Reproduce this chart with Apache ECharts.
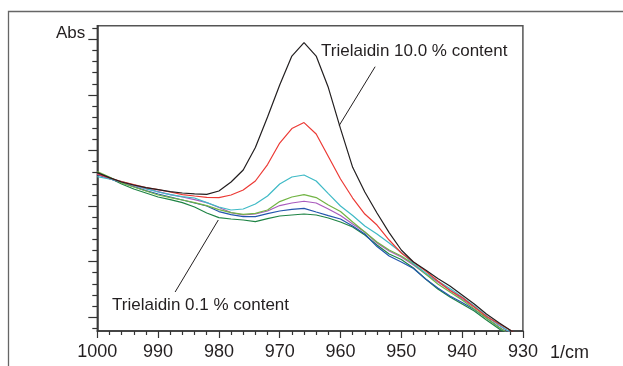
<!DOCTYPE html>
<html>
<head>
<meta charset="utf-8">
<script src="https://cdn.jsdelivr.net/npm/echarts@6/dist/echarts.min.js"></script>
<style>
html,body{margin:0;padding:0;background:#fff;}
#chart{width:623px;height:366px;}
</style>
</head>
<body>
<div id="chart"></div>
<script>
// wavenumber (1/cm)
const wavenumbers = [1000, 998, 996, 994, 992, 990, 988, 986, 984, 982, 980, 978, 976, 974, 972, 970, 968, 966, 964, 962, 960, 958, 956, 954, 952, 950, 948, 946, 944, 942, 940, 938, 936, 934, 932, 930];

// absorbance (arbitrary units), one array per trielaidin content
const absHighest = [0.2301, 0.2256, 0.2216, 0.2189, 0.2166, 0.2148, 0.2130, 0.2117, 0.2110, 0.2105, 0.2135, 0.2216, 0.2324, 0.2526, 0.2801, 0.3089, 0.3350, 0.3471, 0.3350, 0.3066, 0.2696, 0.2348, 0.2126, 0.1937, 0.1761, 0.1604, 0.1496, 0.1424, 0.1347, 0.1280, 0.1199, 0.1118, 0.1028, 0.0951, 0.0879, 0.0812];
const absRed = [0.2288, 0.2252, 0.2220, 0.2193, 0.2166, 0.2148, 0.2126, 0.2103, 0.2090, 0.2078, 0.2076, 0.2099, 0.2144, 0.2225, 0.2373, 0.2567, 0.2697, 0.2751, 0.2648, 0.2445, 0.2243, 0.2072, 0.1928, 0.1829, 0.1694, 0.1577, 0.1496, 0.1415, 0.1325, 0.1239, 0.1176, 0.1091, 0.1005, 0.0942, 0.0879, 0.0812];
const absCyan = [0.2265, 0.2243, 0.2220, 0.2189, 0.2157, 0.2126, 0.2103, 0.2085, 0.2072, 0.2031, 0.1991, 0.1964, 0.1973, 0.2018, 0.2090, 0.2198, 0.2261, 0.2279, 0.2225, 0.2112, 0.2000, 0.1914, 0.1820, 0.1748, 0.1667, 0.1581, 0.1482, 0.1397, 0.1325, 0.1257, 0.1181, 0.1100, 0.1010, 0.0933, 0.0861, 0.0794];
const absLightGreen = [0.2310, 0.2261, 0.2207, 0.2171, 0.2135, 0.2099, 0.2076, 0.2054, 0.2031, 0.2004, 0.1968, 0.1941, 0.1925, 0.1934, 0.1964, 0.2040, 0.2081, 0.2103, 0.2076, 0.2009, 0.1950, 0.1856, 0.1766, 0.1676, 0.1604, 0.1550, 0.1478, 0.1388, 0.1298, 0.1226, 0.1154, 0.1073, 0.0992, 0.0911, 0.0839, 0.0767];
const absPurple = [0.2288, 0.2247, 0.2216, 0.2184, 0.2157, 0.2130, 0.2103, 0.2081, 0.2058, 0.2031, 0.1986, 0.1941, 0.1919, 0.1928, 0.1955, 0.2004, 0.2027, 0.2043, 0.2027, 0.1973, 0.1914, 0.1838, 0.1766, 0.1667, 0.1595, 0.1541, 0.1469, 0.1388, 0.1316, 0.1244, 0.1163, 0.1091, 0.1010, 0.0929, 0.0857, 0.0785];
const absBlue = [0.2283, 0.2247, 0.2211, 0.2175, 0.2139, 0.2108, 0.2081, 0.2054, 0.2027, 0.2000, 0.1950, 0.1923, 0.1905, 0.1904, 0.1932, 0.1955, 0.1970, 0.1979, 0.1946, 0.1914, 0.1883, 0.1820, 0.1748, 0.1635, 0.1550, 0.1496, 0.1437, 0.1343, 0.1262, 0.1190, 0.1131, 0.1068, 0.0992, 0.0911, 0.0839, 0.0767];
const absLowest = [0.2301, 0.2252, 0.2198, 0.2153, 0.2117, 0.2081, 0.2058, 0.2031, 0.1991, 0.1937, 0.1896, 0.1883, 0.1874, 0.1860, 0.1887, 0.1910, 0.1919, 0.1928, 0.1919, 0.1892, 0.1856, 0.1811, 0.1739, 0.1649, 0.1568, 0.1518, 0.1442, 0.1343, 0.1253, 0.1181, 0.1118, 0.1055, 0.0974, 0.0897, 0.0821, 0.0749];

// axis ticks
const xTickLabels = ['1000', '990', '980', '970', '960', '950', '940', '930'];
const yMajorTicks = [0.10, 0.15, 0.20, 0.25, 0.30, 0.35];
const yMinorTicks = [0.09, 0.11, 0.12, 0.13, 0.14, 0.16, 0.17, 0.18, 0.19, 0.21, 0.22, 0.23, 0.24, 0.26, 0.27, 0.28, 0.29, 0.31, 0.32, 0.33, 0.34, 0.36];

// annotation texts and leader-line anchors (data coordinates)
const labelHigh = 'Trielaidin 10.0 % content';
const labelLow = 'Trielaidin 0.1 % content';
const leaderHigh = [[960.2, 0.2726], [954.3, 0.3254]];
const leaderLow = [[980.1, 0.1874], [987.2, 0.1226]];

const seriesDefs = [
  { name: '10.0 %', data: absHighest, color: '#231f20' },
  { name: 'red', data: absRed, color: '#ec3a35' },
  { name: 'cyan', data: absCyan, color: '#3fbac6' },
  { name: 'light green', data: absLightGreen, color: '#72b444' },
  { name: 'purple', data: absPurple, color: '#a95bbd' },
  { name: 'blue', data: absBlue, color: '#2356ad' },
  { name: '0.1 %', data: absLowest, color: '#1f8445' }
];

const FONT = "'Liberation Sans', Arial, Helvetica, sans-serif";
const TXT = '#231f20';

const chart = echarts.init(document.getElementById('chart'), null, { renderer: 'canvas' });

const series = seriesDefs.map(function (s, i) {
  const o = {
    name: s.name,
    type: 'line',
    data: wavenumbers.map(function (w, k) { return [w, s.data[k]]; }),
    symbol: 'none',
    smooth: false,
    clip: true,
    lineStyle: { color: s.color, width: 1.2 },
    itemStyle: { color: s.color },
    z: 10 - i,
    silent: true,
    animation: false
  };
  if (i === 0) {
    o.markLine = {
      silent: true,
      symbol: ['none', 'none'],
      animation: false,
      label: { show: false },
      lineStyle: { color: '#231f20', width: 1, type: 'solid' },
      data: [
        [{ coord: leaderHigh[0] }, { coord: leaderHigh[1] }],
        [{ coord: leaderLow[0] }, { coord: leaderLow[1] }]
      ]
    };
  }
  return o;
});

const option = {
  animation: false,
  backgroundColor: '#ffffff',
  grid: {
    left: 97.3, top: 25.7, right: 100.1, bottom: 35,
    show: true, borderColor: '#555', borderWidth: 1.5, backgroundColor: 'transparent'
  },
  xAxis: {
    type: 'value',
    min: 930, max: 1000, interval: 10, inverse: true,
    name: '1/cm',
    nameLocation: 'start',
    nameGap: 27,
    nameTextStyle: { fontFamily: FONT, fontSize: 18, color: TXT, align: 'left', verticalAlign: 'top', padding: [13, 0, 0, 0] },
    axisLine: { show: true, onZero: false, lineStyle: { color: '#333', width: 1.5 } },
    axisTick: { show: true, inside: false, length: 7, lineStyle: { color: '#333', width: 1.2 } },
    minorTick: { show: true, splitNumber: 5, length: 4, lineStyle: { color: '#333', width: 1.2 } },
    splitLine: { show: false },
    axisLabel: {
      show: true, margin: 12, fontFamily: FONT, fontSize: 18, color: TXT,
      formatter: function (v) { const i = xTickLabels.indexOf(String(v)); return i >= 0 ? xTickLabels[i] : ''; }
    }
  },
  yAxis: [
    {
      type: 'value',
      min: 0.0875, max: 0.3623,
      position: 'left',
      name: 'Abs',
      nameLocation: 'end',
      nameGap: -8,
      nameTextStyle: { fontFamily: FONT, fontSize: 17, color: TXT, align: 'right', verticalAlign: 'middle', padding: [0, 12, 0, 0] },
      axisLine: { show: true, onZero: false, lineStyle: { color: '#333', width: 1.5 } },
      axisTick: { show: true, inside: false, length: 9, customValues: yMajorTicks, lineStyle: { color: '#333', width: 1.2 } },
      axisLabel: { show: false },
      splitLine: { show: false }
    },
    {
      type: 'value',
      min: 0.0875, max: 0.3623,
      position: 'left',
      offset: 0,
      axisLine: { show: false },
      axisTick: { show: true, inside: false, length: 5, customValues: yMinorTicks, lineStyle: { color: '#333', width: 1.2 } },
      axisLabel: { show: false },
      splitLine: { show: false }
    }
  ],
  graphic: [
    {
      type: 'rect', silent: true, z: -1,
      shape: { x: 8.5, y: 11.5, width: 640, height: 380 },
      style: { fill: 'none', stroke: '#666', lineWidth: 1.3 }
    },
    {
      type: 'text', silent: true, left: 321, top: 43,
      style: { text: labelHigh, fontFamily: FONT, fontSize: 17, fill: TXT }
    },
    {
      type: 'text', silent: true, left: 112, top: 297,
      style: { text: labelLow, fontFamily: FONT, fontSize: 17, fill: TXT }
    }
  ],
  series: series
};

chart.setOption(option);
</script>
</body>
</html>
